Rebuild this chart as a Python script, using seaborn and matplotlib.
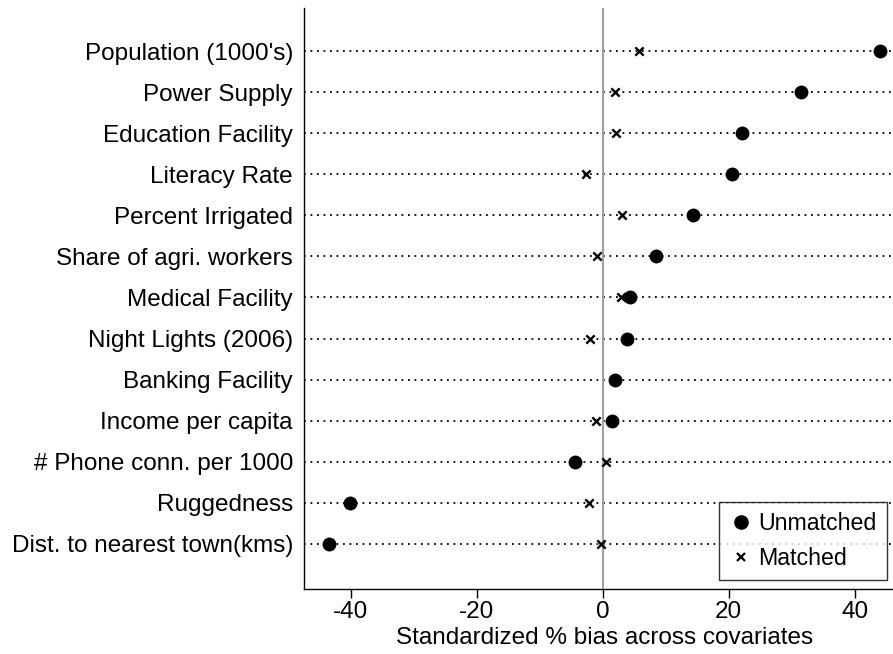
import matplotlib
matplotlib.use("Agg")
import matplotlib.pyplot as plt
from matplotlib.lines import Line2D
import seaborn as sns
import pandas as pd

covariates = [
    "Population (1000's)", "Power Supply", "Education Facility", "Literacy Rate",
    "Percent Irrigated", "Share of agri. workers", "Medical Facility",
    "Night Lights (2006)", "Banking Facility", "Income per capita",
    "# Phone conn. per 1000", "Ruggedness", "Dist. to nearest town(kms)",
]
unmatched = [44.0, 31.5, 22.2, 20.5, 14.3, 8.4, 4.4, 3.8, 1.95, 1.5, -4.4, -40.1, -43.4]
matched = [5.8, 2.0, 2.1, -2.6, 3.1, -0.9, 2.9, -2.0, 1.8, -1.1, 0.5, -2.2, -0.3]
xticks = [-40, -20, 0, 20, 40]
xlabel = "Standardized % bias across covariates"
legend_labels = ["Unmatched", "Matched"]

sns.set_style("white")
plt.rcParams["font.family"] = ["Liberation Sans", "DejaVu Sans"]
plt.rcParams["text.color"] = "black"
plt.rcParams["axes.labelcolor"] = "black"
plt.rcParams["xtick.color"] = "black"
plt.rcParams["ytick.color"] = "black"

FS = 17.5

df_u = pd.DataFrame({"cov": covariates, "bias": unmatched})
df_m = pd.DataFrame({"cov": covariates, "bias": matched})

fig = plt.figure(figsize=(8.93, 6.54), dpi=100)
ax = fig.add_axes([304 / 893, 1 - 589 / 654, (905 - 304) / 893, (589 - 8) / 654])

xlo, xhi = -47.4, 48.0
ax.hlines(covariates, xlo, xhi, colors="black", linestyles=(0, (1, 2.6)), linewidth=1.3, zorder=1)
ax.axvline(0, color="#a0a0a0", linewidth=1.5, zorder=1.5)

sns.scatterplot(data=df_m, x="bias", y="cov", marker="x", color="black", s=36,
                linewidth=1.7, ax=ax, zorder=3, legend=False)
sns.scatterplot(data=df_u, x="bias", y="cov", marker="o", color="black", s=100,
                edgecolor="black", linewidth=0, ax=ax, zorder=4, legend=False)

ax.set_xlim(xlo, xhi)
ax.set_ylim(len(covariates) - 1 + 1.10, -1.05)
ax.set_xticks(xticks)
ax.set_xticklabels([str(t) for t in xticks], fontsize=FS)
ax.tick_params(axis="x", length=6.5, width=1, color="black", pad=2.5, direction="out", bottom=True)
ax.tick_params(axis="y", length=0, pad=8, labelsize=FS)
ax.set_xlabel(xlabel, fontsize=FS, labelpad=2.5)
ax.set_ylabel("")

for side in ["top", "right"]:
    ax.spines[side].set_visible(False)
for side in ["left", "bottom"]:
    ax.spines[side].set_visible(True)
    ax.spines[side].set_color("black")
    ax.spines[side].set_linewidth(1.0)

handles = [
    Line2D([], [], marker="o", linestyle="none", color="black", markersize=9.5),
    Line2D([], [], marker="x", linestyle="none", color="black", markersize=6, markeredgewidth=1.6),
]
leg = ax.legend(handles, legend_labels, loc="upper left",
                bbox_to_anchor=((719 - 304) / (905 - 304), (589 - 502) / (589 - 8)),
                borderaxespad=0, frameon=True, fancybox=False, fontsize=16.7,
                handletextpad=0.25, handlelength=1.0, borderpad=0.45, labelspacing=0.5)
leg.get_frame().set_edgecolor("black")
leg.get_frame().set_linewidth(1.0)

fig.savefig("out.png", dpi=100)
